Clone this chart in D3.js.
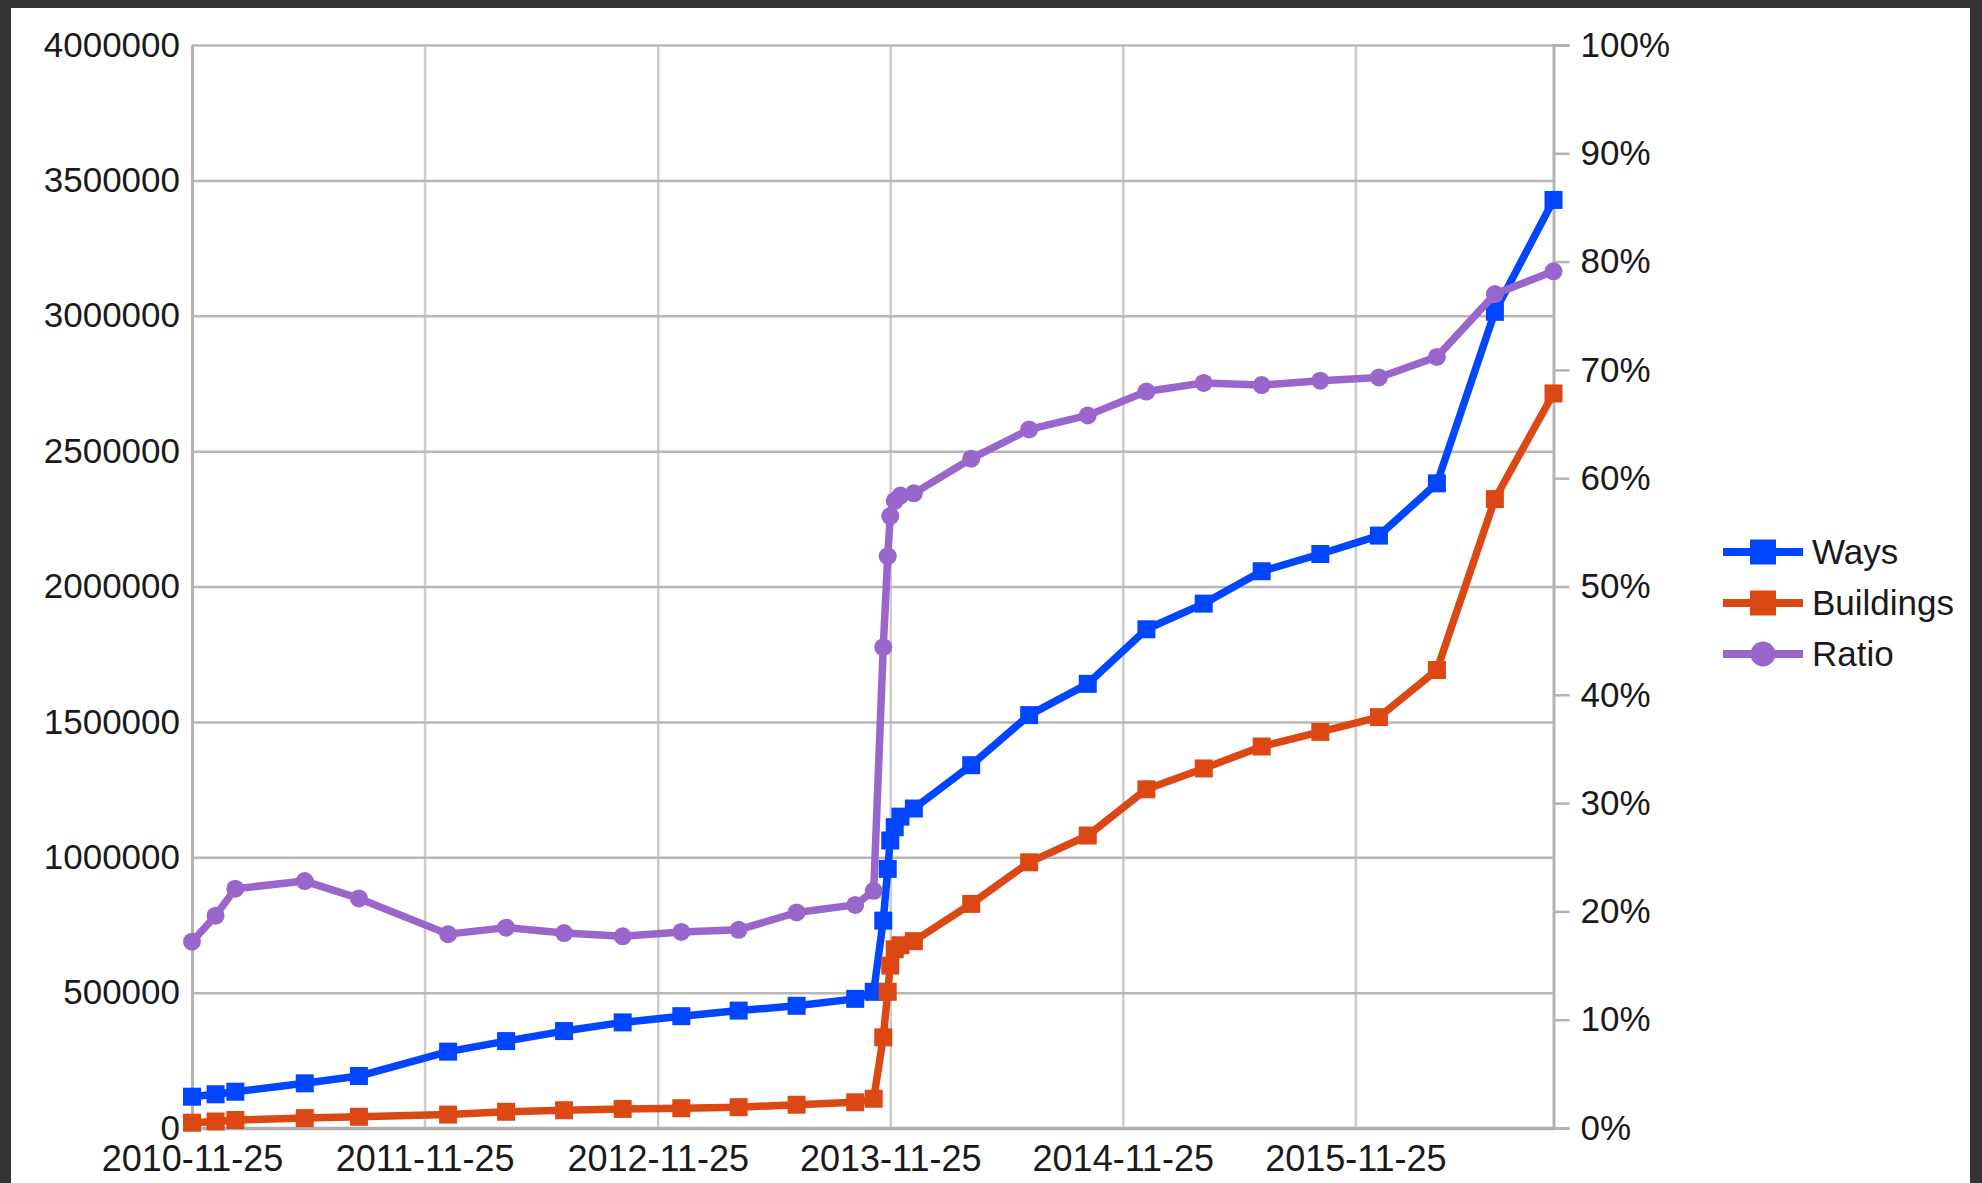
<!DOCTYPE html>
<html>
<head>
<meta charset="utf-8">
<script src="https://cdn.jsdelivr.net/npm/d3@7"></script>
<style>
  html, body { margin: 0; padding: 0; background: #333333; }
  svg { display: block; }
  text { font-family: "Liberation Sans", Arial, sans-serif; }
</style>
</head>
<body>
<svg id="chart" width="1982" height="1183"></svg>
<script>
// ---- data ----
const dates = ["2010-11-25","2011-01-01","2011-02-01","2011-05-21","2011-08-14","2012-01-01","2012-04-01","2012-07-01","2012-10-01","2013-01-01","2013-04-01","2013-07-01","2013-10-01","2013-10-30","2013-11-14","2013-11-21","2013-11-25","2013-12-02","2013-12-11","2014-01-01","2014-04-01","2014-07-01","2014-10-01","2015-01-01","2015-04-01","2015-07-01","2015-10-01","2016-01-01","2016-04-01","2016-07-01","2016-10-01"];
const ways = [115600,124500,134000,165000,192000,282000,321000,358000,390000,413000,433600,451300,477000,503000,766000,957000,1062000,1111000,1150000,1180000,1340000,1525000,1640500,1842000,1936700,2056400,2120000,2188000,2381000,3014500,3427700];
const buildings = [19500,24000,29500,36500,41500,49500,60000,65500,70500,73000,77000,86000,95000,108000,335000,503000,600000,660000,675000,690000,827700,981300,1080300,1251000,1328000,1409000,1463000,1517500,1691500,2323000,2713000];
const ratio = [0.172,0.196,0.221,0.228,0.212,0.179,0.185,0.180,0.177,0.181,0.183,0.199,0.206,0.219,0.444,0.528,0.565,0.579,0.584,0.586,0.618,0.645,0.658,0.680,0.688,0.686,0.690,0.693,0.712,0.770,0.791];
const seriesNames = ["Ways","Buildings","Ratio"];
const seriesColors = ["#0045ff","#dc4814","#9966cc"];
const xTickLabels = ["2010-11-25","2011-11-25","2012-11-25","2013-11-25","2014-11-25","2015-11-25"];
const yLeftTicks = [0,500000,1000000,1500000,2000000,2500000,3000000,3500000,4000000];
const yRightTicks = [0,0.1,0.2,0.3,0.4,0.5,0.6,0.7,0.8,0.9,1.0];

// ---- layout ----
const svg = d3.select("#chart");
const L = 192, R = 1553.5, T = 45, B = 1128;
const parse = d3.timeParse("%Y-%m-%d");
const dts = dates.map(parse);

svg.append("rect").attr("x", 11).attr("y", 8).attr("width", 1959).attr("height", 1175).attr("fill", "#ffffff");

const x = d3.scaleTime().domain([dts[0], dts[dts.length - 1]]).range([L, R]);
const yL = d3.scaleLinear().domain([0, 4000000]).range([B, T]);
const yR = d3.scaleLinear().domain([0, 1]).range([B, T]);

const textColor = "#1a1a1a";
const fontSize = "35px";

// vertical grid
const gx = svg.append("g").attr("transform", `translate(0,${B})`)
  .call(d3.axisBottom(x).tickValues(xTickLabels.map(parse)).tickSize(-(B - T)).tickFormat(""));
gx.select(".domain").remove();
gx.selectAll("line").attr("stroke", "#cccccc").attr("stroke-width", 2.5);

// horizontal grid
const gy = svg.append("g").attr("transform", `translate(${L},0)`)
  .call(d3.axisLeft(yL).tickValues(yLeftTicks).tickSize(-(R - L)).tickFormat(""));
gy.select(".domain").remove();
gy.selectAll("line").attr("stroke", "#b8b8b8").attr("stroke-width", 2.5);

// left axis line + labels
const la = svg.append("g").attr("transform", `translate(${L},0)`)
  .call(d3.axisLeft(yL).tickValues(yLeftTicks).tickSize(0).tickPadding(12).tickFormat(d3.format("d")));
la.select(".domain").attr("stroke", "#b3b3b3").attr("stroke-width", 3);
la.selectAll("text").attr("fill", textColor).style("font-size", fontSize);

// right axis
const ra = svg.append("g").attr("transform", `translate(${R},0)`)
  .call(d3.axisRight(yR).tickValues(yRightTicks).tickSize(16).tickPadding(11).tickFormat(d3.format(".0%")));
ra.select(".domain").attr("stroke", "#b3b3b3").attr("stroke-width", 3);
ra.selectAll("line").attr("stroke", "#b3b3b3").attr("stroke-width", 2.5);
ra.selectAll("text").attr("fill", textColor).style("font-size", fontSize);

// bottom axis
const ba = svg.append("g").attr("transform", `translate(0,${B})`)
  .call(d3.axisBottom(x).tickValues(xTickLabels.map(parse)).tickSize(0).tickPadding(17).tickFormat(d3.timeFormat("%Y-%m-%d")));
ba.select(".domain").attr("stroke", "#b0b0b0").attr("stroke-width", 3.5);
ba.selectAll("text").attr("fill", textColor).style("font-size", "36px");

// ---- series ----
const series = [
  { name: seriesNames[0], values: ways, scale: yL, color: seriesColors[0], shape: "square" },
  { name: seriesNames[1], values: buildings, scale: yL, color: seriesColors[1], shape: "square" },
  { name: seriesNames[2], values: ratio, scale: yR, color: seriesColors[2], shape: "circle" }
];

const ms = 18;
series.forEach(s => {
  const pts = s.values.map((v, i) => [x(dts[i]), s.scale(v)]);
  svg.append("path")
    .attr("d", d3.line()(pts))
    .attr("fill", "none").attr("stroke", s.color).attr("stroke-width", 7.5)
    .attr("stroke-linejoin", "round");
  const g = svg.append("g");
  if (s.shape === "square") {
    g.selectAll("rect").data(pts).join("rect")
      .attr("x", d => d[0] - ms / 2).attr("y", d => d[1] - ms / 2)
      .attr("width", ms).attr("height", ms).attr("fill", s.color);
  } else {
    g.selectAll("circle").data(pts).join("circle")
      .attr("cx", d => d[0]).attr("cy", d => d[1]).attr("r", 9).attr("fill", s.color);
  }
});

// ---- legend ----
const lg = svg.append("g");
series.forEach((s, i) => {
  const cy = 552 + i * 51;
  lg.append("line").attr("x1", 1723).attr("x2", 1803).attr("y1", cy).attr("y2", cy)
    .attr("stroke", s.color).attr("stroke-width", 8);
  if (s.shape === "square") {
    lg.append("rect").attr("x", 1763 - 13).attr("y", cy - 12.5).attr("width", 26).attr("height", 25).attr("fill", s.color);
  } else {
    lg.append("circle").attr("cx", 1763).attr("cy", cy).attr("r", 12.5).attr("fill", s.color);
  }
  lg.append("text").attr("x", 1812).attr("y", cy).attr("dy", "0.35em")
    .attr("fill", textColor).style("font-size", fontSize).text(s.name);
});
</script>
</body>
</html>
